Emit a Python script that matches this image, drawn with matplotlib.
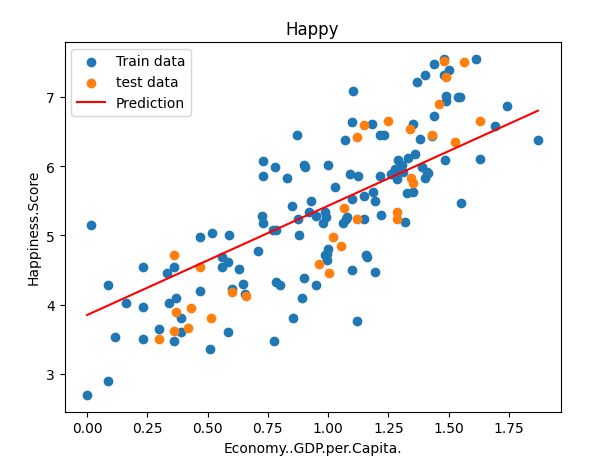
import matplotlib
matplotlib.use("Agg")
import matplotlib.pyplot as plt
import numpy as np

# dados de treino (Economy..GDP.per.Capita., Happiness.Score)
train_x = [0.00, 0.085, 0.015, 0.085, 0.115, 0.16, 0.23, 0.23, 0.23, 0.30,
           0.33, 0.36, 0.34, 0.37, 0.39, 0.39, 0.36, 0.47, 0.51, 0.585,
           0.60, 0.47, 0.52, 0.59, 0.56, 0.585, 0.56, 0.63, 0.645, 0.655,
           0.71, 0.725, 0.73, 0.73, 0.73, 0.78, 0.77, 0.785, 0.775, 0.785,
           0.80, 0.83, 0.855, 0.85, 0.87, 0.875, 0.88, 0.89, 0.90, 0.90,
           0.905, 0.92, 0.93, 0.95, 0.95, 0.985, 0.99, 0.98, 0.985, 0.995,
           1.00, 0.995, 1.00, 1.03, 1.06, 1.075, 1.08, 1.07, 1.09, 1.10,
           1.10, 1.10, 1.105, 1.12, 1.125, 1.15, 1.15, 1.155, 1.16, 1.18,
           1.185, 1.195, 1.195, 1.215, 1.215, 1.22, 1.23, 1.26, 1.277, 1.285,
           1.29, 1.306, 1.31, 1.32, 1.325, 1.33, 1.35, 1.35, 1.36, 1.37,
           1.38, 1.39, 1.40, 1.40, 1.41, 1.415, 1.43, 1.44, 1.44, 1.48,
           1.48, 1.485, 1.49, 1.49, 1.50, 1.54, 1.545, 1.55, 1.615, 1.63,
           1.69, 1.74, 1.87]
train_y = [2.70, 2.90, 5.15, 4.28, 3.54, 4.03, 4.55, 3.51, 3.97, 3.65,
           4.46, 4.55, 4.03, 4.09, 3.80, 3.60, 3.48, 4.19, 3.36, 3.60,
           4.22, 4.97, 5.04, 5.01, 4.69, 4.61, 4.55, 4.51, 4.30, 4.15,
           4.78, 5.28, 5.18, 5.85, 6.08, 5.98, 5.08, 5.08, 3.47, 4.32,
           4.29, 5.83, 3.80, 5.43, 6.45, 5.24, 5.01, 4.10, 4.39, 6.01,
           5.98, 5.33, 5.50, 5.28, 4.29, 5.34, 5.27, 5.18, 4.72, 4.73,
           4.81, 4.65, 6.02, 5.70, 5.18, 5.23, 5.27, 6.37, 5.88, 5.53,
           4.50, 6.64, 7.09, 3.77, 5.85, 5.57, 5.24, 4.72, 4.69, 6.61,
           5.63, 5.50, 4.47, 5.85, 6.45, 5.30, 6.45, 5.88, 5.96, 5.81,
           6.09, 6.01, 5.91, 5.20, 5.61, 6.11, 5.63, 6.61, 6.18, 7.21,
           6.39, 5.98, 5.83, 7.32, 5.92, 5.90, 6.43, 6.73, 7.48, 7.55,
           7.32, 6.09, 7.01, 6.94, 7.39, 6.99, 7.00, 5.47, 7.55, 6.10,
           6.58, 6.87, 6.38]

# dados de teste
test_x = [0.30, 0.36, 0.36, 0.37, 0.42, 0.43, 0.47, 0.515, 0.60, 0.66,
          0.96, 1.005, 1.02, 1.055, 1.065, 1.12, 1.12, 1.15, 1.25, 1.285,
          1.285, 1.34, 1.345, 1.35, 1.43, 1.46, 1.48, 1.49, 1.525, 1.565,
          1.63]
test_y = [3.50, 3.62, 4.71, 3.89, 3.66, 3.95, 4.55, 3.81, 4.18, 4.13,
          4.58, 4.45, 4.97, 4.84, 5.40, 5.24, 6.42, 6.59, 6.65, 5.33,
          5.23, 6.54, 5.83, 5.76, 6.45, 6.90, 7.51, 7.29, 6.35, 7.50,
          6.65]

# reta da regressao
pred_x = [0.0, 1.87]
pred_y = [3.85, 6.80]

fig = plt.figure(figsize=(6.05, 4.6), dpi=100)
ax = fig.add_axes([64.5 / 605, 47.5 / 460, 496 / 605, 369.6 / 460])

ax.scatter(train_x, train_y, label="Train data")
ax.scatter(test_x, test_y, label="test data")
ax.plot(pred_x, pred_y, color="red", label="Prediction")

ax.set_title("Happy")
ax.set_xlabel("Economy..GDP.per.Capita.")
ax.set_ylabel("Happiness.Score")
ax.legend(loc="upper left")

fig.savefig("out.png", dpi=100)
